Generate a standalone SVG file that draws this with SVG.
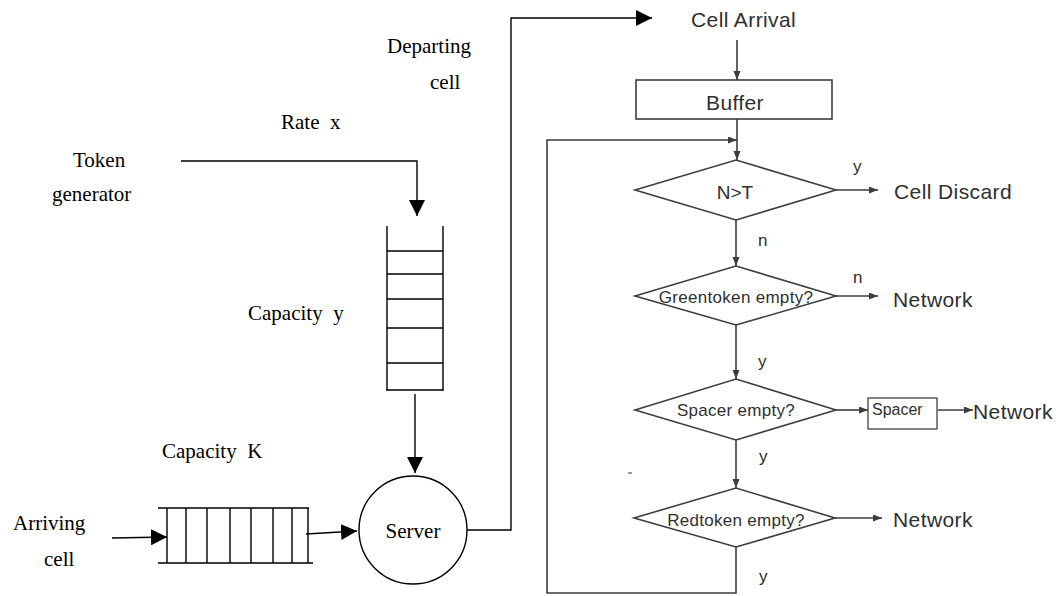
<svg xmlns="http://www.w3.org/2000/svg" width="1056" height="596" viewBox="0 0 1056 596">
<style>
.bk{stroke:#000;stroke-width:1.4;fill:none}
.gr{stroke:#3d3d3d;stroke-width:1.6;fill:none}
.sf{font-family:"Liberation Serif","Times New Roman",serif;font-size:21px;fill:#000}
.ss{font-family:"Liberation Sans",Arial,sans-serif;fill:#2f2f2f}
.big{font-size:21px;letter-spacing:0.4px}
.mid{font-size:17px;letter-spacing:0.3px}
.lab{font-size:17px}
</style>
<defs>
<marker id="ab" markerUnits="userSpaceOnUse" markerWidth="16" markerHeight="16" refX="16" refY="8" orient="auto">
<path d="M0,0 L16,8 L0,16 z" fill="#000"/>
</marker>
<marker id="ag" markerUnits="userSpaceOnUse" markerWidth="10" markerHeight="8" refX="9" refY="3.5" orient="auto">
<path d="M0,0 L9,3.5 L0,7 z" fill="#3d3d3d"/>
</marker>
</defs>
<rect width="1056" height="596" fill="#fff"/>

<g id="token-generator">
<text class="sf" x="73" y="167">Token</text>
<text class="sf" x="52" y="201">generator</text>
</g>
<text class="sf" x="281" y="129" style="white-space:pre">Rate  x</text>
<g id="departing-label">
<text class="sf" x="387" y="53">Departing</text>
<text class="sf" x="430" y="89">cell</text>
</g>

<g id="token-bucket">
<path class="bk" d="M387,226 V390 M443,226 V391 M386,390 H443 M387,251 H443 M387,274 H443 M387,299 H443 M387,328 H443 M387,363 H443"/>
</g>
<text class="sf" x="248" y="320" style="white-space:pre">Capacity  y</text>

<g id="cell-queue">
<path class="bk" d="M158,508 H309 M158,563 H313 M167,508 V563 M186,508 V563 M207,508 V563 M230,508 V563 M251,508 V563 M273,508 V563 M292,508 V563 M308,508 V563"/>
</g>
<text class="sf" x="162" y="458" style="white-space:pre">Capacity  K</text>
<g id="arriving-cell">
<text class="sf" x="13" y="530">Arriving</text>
<text class="sf" x="44" y="566">cell</text>
</g>

<g id="server">
<circle class="bk" cx="413" cy="530" r="54"/>
<text class="sf" x="413" y="538" text-anchor="middle">Server</text>
</g>

<g id="cell-arrival">
<text class="ss big" x="691" y="27">Cell Arrival</text>
</g>
<g id="buffer">
<rect class="gr" x="636" y="80" width="196" height="39"/>
<text class="ss big" x="735" y="110" text-anchor="middle">Buffer</text>
</g>
<g id="n-gt-t">
<polygon class="gr" points="635,190 736,160 836,190 736,220"/>
<text class="ss" font-size="19" x="735" y="199" text-anchor="middle">N&gt;T</text>
</g>
<g id="cell-discard">
<text class="ss big" x="894" y="199">Cell Discard</text>
</g>
<g id="greentoken">
<polygon class="gr" points="635,296 736,266 836,296 736,325"/>
<text class="ss mid" x="736" y="303" text-anchor="middle">Greentoken empty?</text>
</g>
<g id="network-1">
<text class="ss big" x="893" y="307">Network</text>
</g>
<g id="spacer-empty">
<polygon class="gr" points="635,410 736,379 836,410 736,440"/>
<text class="ss mid" x="736" y="416" text-anchor="middle">Spacer empty?</text>
</g>
<g id="spacer">
<rect x="868" y="398" width="69" height="31" fill="#fff" stroke="#333" stroke-width="1.2"/>
<text class="ss" font-size="16" x="872" y="415" fill="#333">Spacer</text>
</g>
<g id="network-2">
<text class="ss big" x="973" y="419">Network</text>
</g>
<g id="redtoken">
<polygon class="gr" points="634,518 736,488 835,518 736,547"/>
<text class="ss mid" x="736" y="526" text-anchor="middle">Redtoken empty?</text>
</g>
<g id="network-3">
<text class="ss big" x="893" y="527">Network</text>
</g>

<g id="connectors">
<path class="bk" d="M181,161 H417 V216" marker-end="url(#ab)"/>
<path class="bk" d="M415,394 V473" marker-end="url(#ab)"/>
<path class="bk" d="M112,538 L167,537" marker-end="url(#ab)"/>
<path class="bk" d="M306,534 L357,531" marker-end="url(#ab)"/>
<path class="bk" d="M467,530 H511 V18 H652" marker-end="url(#ab)"/>

<path class="gr" d="M737,40 V80" marker-end="url(#ag)"/>
<path class="gr" d="M737,119 V160" marker-end="url(#ag)"/>
<path class="gr" d="M736,547 V593 H547 V140 H737" marker-end="url(#ag)"/>
<path class="gr" d="M836,190 H878" marker-end="url(#ag)"/>
<path class="gr" d="M736,220 V266" marker-end="url(#ag)"/>
<path class="gr" d="M836,296 H878" marker-end="url(#ag)"/>
<path class="gr" d="M736,325 V379" marker-end="url(#ag)"/>
<path class="gr" d="M836,410 H868" marker-end="url(#ag)"/>
<path class="gr" d="M938,410 H973" marker-end="url(#ag)"/>
<path class="gr" d="M736,440 V488" marker-end="url(#ag)"/>
<path class="gr" d="M835,518 H882" marker-end="url(#ag)"/>

<text class="ss lab" x="853" y="172">y</text>
<text class="ss lab" x="758" y="246">n</text>
<text class="ss lab" x="853" y="283">n</text>
<text class="ss lab" x="758" y="367">y</text>
<text class="ss lab" x="759" y="462">y</text>
<text class="ss lab" x="759" y="582">y</text>
</g>
<path d="M628,473 H632" stroke="#555" stroke-width="1.2"/>
</svg>
